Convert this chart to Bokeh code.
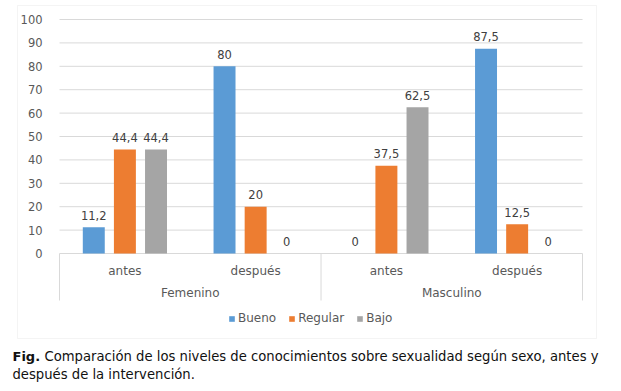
from bokeh.plotting import figure
from bokeh.models import (ColumnDataSource, FixedTicker, Legend, LegendItem, Label,
                          BoxAnnotation, LinearAxis, Range1d)
from bokeh.core.properties import value
from bokeh.embed import file_html
from bokeh.resources import INLINE

# ---- data ----
groups = ["Femenino", "Masculino"]
moments = ["antes", "después"]
series = ["Bueno", "Regular", "Bajo"]
bueno = [11.2, 80, 0, 87.5]
regular = [44.4, 20, 37.5, 12.5]
bajo = [44.4, 0, 62.5, 0]
y_ticks = [0, 10, 20, 30, 40, 50, 60, 70, 80, 90, 100]
caption_bold = "Fig."
caption_line1 = "Comparación de los niveles de conocimientos sobre sexualidad según sexo, antes y"
caption_line2 = "después de la intervención."

colors = ["#5B9BD5", "#ED7D31", "#A5A5A5"]
FONT = "DejaVu Sans"
GRID = "#D9D9D9"
TXT = "#595959"

W, H = 621, 391
factors = [(g, m) for g in groups for m in moments]
xpos = list(range(len(factors)))          # category slots 0..3
group_pos = [0.5, 2.5]                    # centre of each group of two slots

# scales: one category slot = 130.75 px, slot 0 centre at 124.4 px; 2.34 px per unit, 0 at 253 px
x0 = -124.4 / 130.75
y_top = 253 / 2.34
p = figure(width=W, height=H, output_backend="svg", toolbar_location=None,
           x_range=Range1d(x0, x0 + W / 130.75),
           y_range=Range1d(y_top - H / 2.34, y_top))
p.min_border = 0
p.min_border_left = p.min_border_right = p.min_border_top = p.min_border_bottom = 0
p.outline_line_color = None
p.background_fill_color = "white"
p.border_fill_color = "white"
p.xaxis.visible = False
p.yaxis.visible = False
p.xgrid.visible = False
p.ygrid.visible = False

x_lo, x_hi = xpos[0] - 0.5, xpos[-1] + 0.5
x_mid = (xpos[1] + xpos[2]) / 2

# horizontal gridlines over the plot area only
p.segment(x0=[x_lo] * len(y_ticks), x1=[x_hi] * len(y_ticks), y0=y_ticks, y1=y_ticks,
          line_color=GRID, line_width=1)

# real y axis, pinned at the left edge of the plot area
ya = LinearAxis(fixed_location=x_lo, ticker=FixedTicker(ticks=y_ticks))
ya.axis_line_color = None
ya.major_tick_line_color = None
ya.minor_tick_line_color = None
ya.major_label_standoff = 11
ya.major_label_text_font = FONT
ya.major_label_text_font_size = "11.5px"
ya.major_label_text_color = TXT
p.add_layout(ya, "left")

fmt = lambda vals: [f"{v:g}".replace(".", ",") for v in vals]
offsets = [-0.238, 0.0, 0.238]
items = []
for s, vals, c, off in zip(series, [bueno, regular, bajo], colors, offsets):
    src = ColumnDataSource(dict(x=[xx + off for xx in xpos], top=vals, lab=fmt(vals)))
    r = p.vbar(x="x", top="top", bottom=0, width=0.168, source=src,
               fill_color=c, line_color=None)
    items.append(LegendItem(label=s, renderers=[r]))
    p.text(x="x", y="top", text="lab", source=src, text_align="center",
           text_baseline="middle", y_offset=-12, text_font=value(FONT),
           text_font_size="11.5px", text_color="#404040")

# category separators below the axis
sep_x = [x_lo, x_mid, x_hi]
p.segment(x0=sep_x, x1=sep_x, y0=[0] * 3, y1=[-20.09] * 3, line_color=GRID, line_width=1)

# category labels
p.text(x=xpos, y=[-7.3] * 4, text=[m for g, m in factors], text_align="center",
       text_baseline="middle", text_font=value(FONT), text_font_size="12px",
       text_color=TXT)
p.text(x=group_pos, y=[-17.0] * 2, text=groups, text_align="center",
       text_baseline="middle", text_font=value(FONT), text_font_size="12px",
       text_color=TXT)

legend = Legend(items=items, orientation="horizontal", location=(228, 66),
                glyph_width=7, glyph_height=7, label_standoff=3, spacing=12,
                padding=0, margin=0, label_height=14, border_line_color=None,
                background_fill_alpha=0, label_text_font=FONT,
                label_text_font_size="12px", label_text_color=TXT)
p.add_layout(legend, "center")

# chart border box
p.add_layout(BoxAnnotation(left=17, right=596, top=386, bottom=53,
                           left_units="screen", right_units="screen",
                           top_units="screen", bottom_units="screen",
                           fill_alpha=0, line_color=GRID, line_width=1))

# caption
p.add_layout(Label(x=12, y=35, x_units="screen", y_units="screen", text=caption_bold,
                   text_font=FONT, text_font_style="bold", text_font_size="13px",
                   text_color="#111111", text_baseline="middle"))
p.add_layout(Label(x=44, y=35, x_units="screen", y_units="screen", text=caption_line1,
                   text_font=FONT, text_font_size="13.2px", text_color="#111111",
                   text_baseline="middle"))
p.add_layout(Label(x=12, y=17, x_units="screen", y_units="screen", text=caption_line2,
                   text_font=FONT, text_font_size="13.2px", text_color="#111111",
                   text_baseline="middle"))

open("out.html", "w").write(file_html(p, INLINE))
